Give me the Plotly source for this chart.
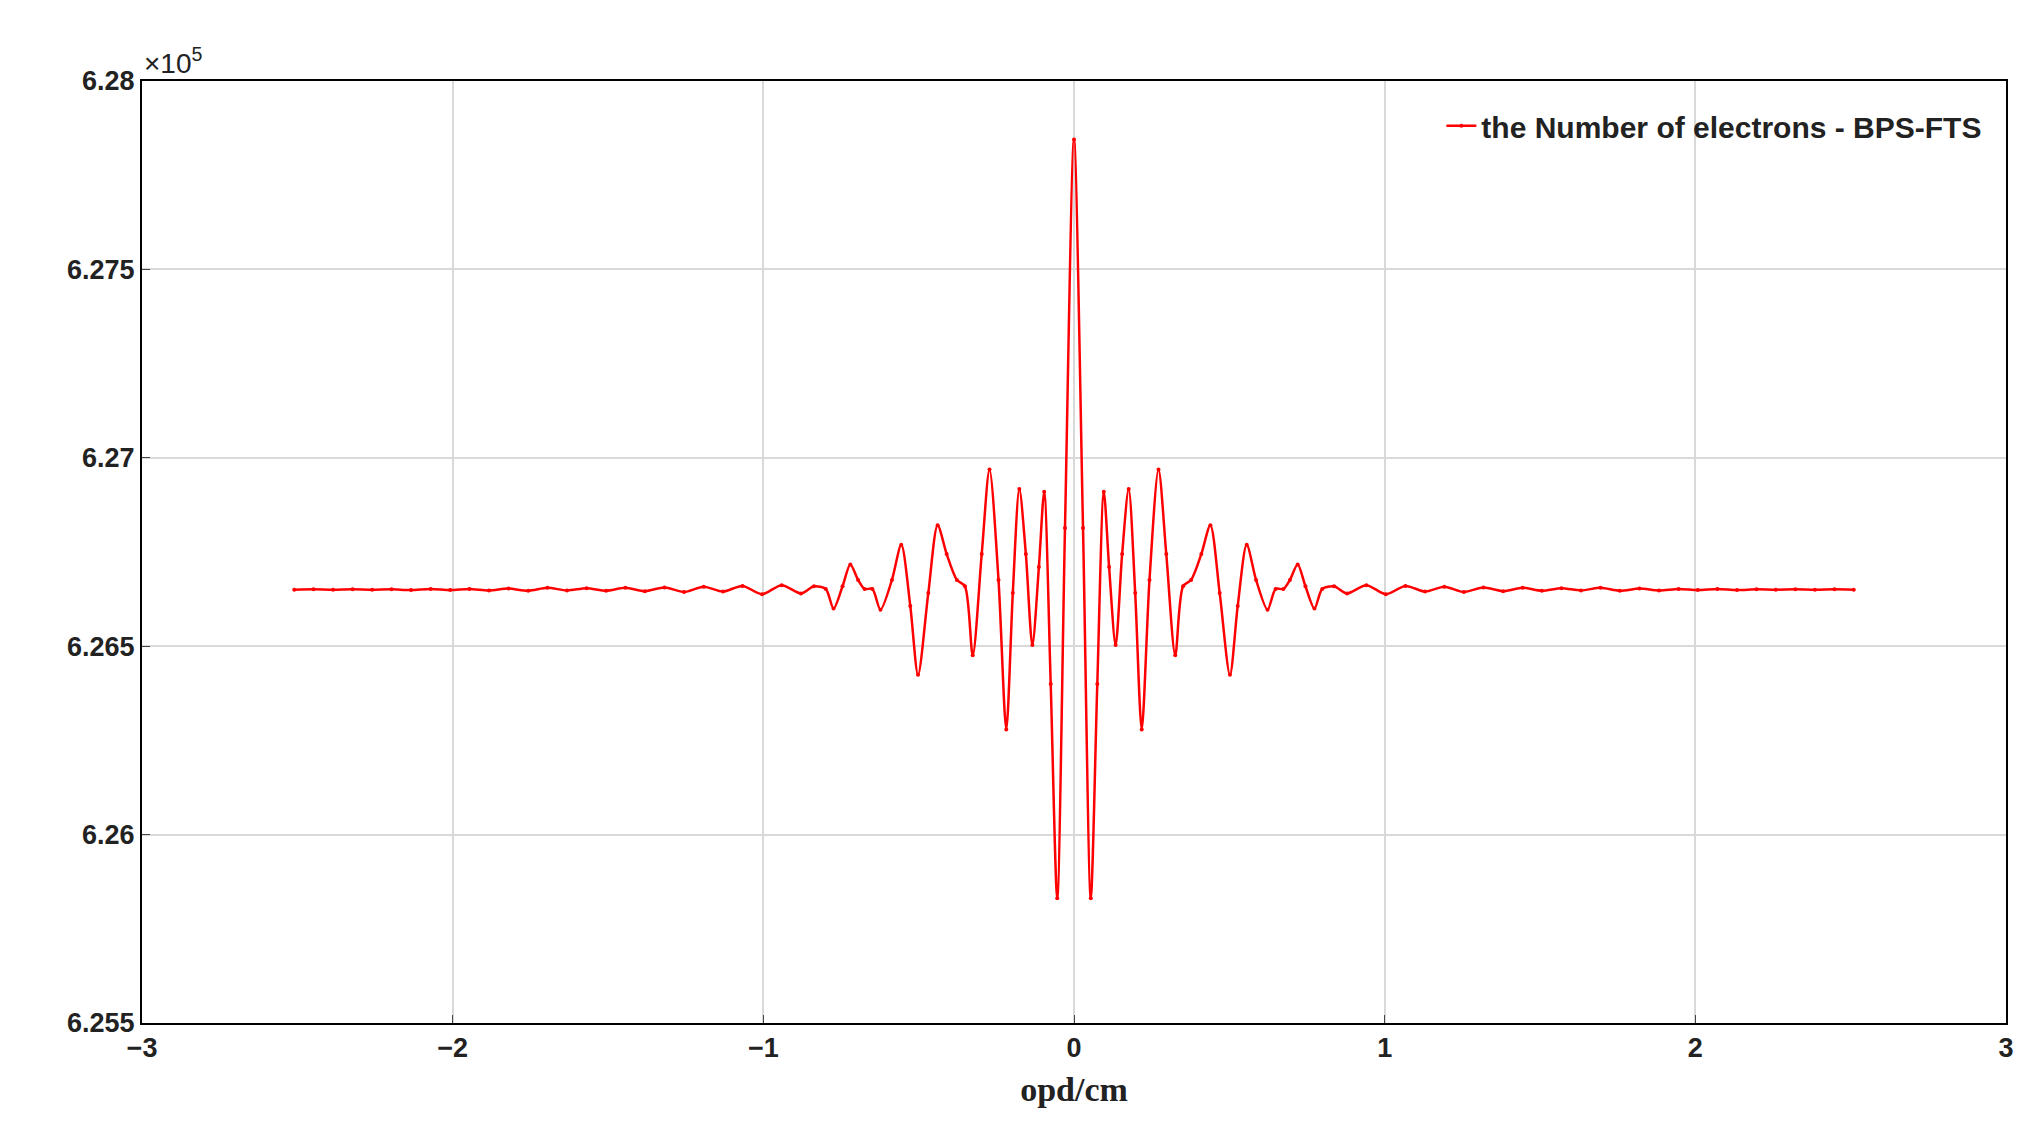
import plotly.graph_objects as go

# right half of the interferogram (opd >= 0); curve is symmetric
opd_half = [0, .029, .054, .075, .096, .113, .134, .155, .176, .197, .218, .243, .272, .297,
            .326, .351, .377, .410, .439, .469, .502, .527, .556, .586, .623, .649, .674, .695,
            .720, .745, .774, .799, .837, .879, .941, 1.004, 1.067, 1.130, 1.192, 1.255, 1.318,
            1.381, 1.444, 1.506, 1.569, 1.632, 1.695, 1.757, 1.820, 1.883, 1.946, 2.008, 2.071,
            2.134, 2.197, 2.259, 2.322, 2.385, 2.448, 2.51]
electrons_half = [6.27845, 6.26814, 6.25831, 6.26400, 6.26910, 6.26710, 6.26503, 6.26745,
                  6.26917, 6.26641, 6.26279, 6.26676, 6.26969, 6.26745, 6.26476, 6.26659,
                  6.26676, 6.26745, 6.26821, 6.26641, 6.26424, 6.26607, 6.26769, 6.26676,
                  6.26597, 6.26652, 6.26652, 6.26676, 6.26717, 6.26659, 6.26600, 6.26652,
                  6.26659, 6.26640, 6.26662, 6.26638, 6.26660, 6.26645, 6.26658, 6.26644,
                  6.26656, 6.26646, 6.26655, 6.26647, 6.26654, 6.26648, 6.26655, 6.26647,
                  6.26653, 6.26648, 6.26652, 6.26649, 6.26652, 6.26649, 6.26651, 6.26650,
                  6.26651, 6.26650, 6.26651, 6.26650]

opd = [-v for v in opd_half[:0:-1]] + opd_half
electrons = electrons_half[:0:-1] + electrons_half

y_ticks = [6.255, 6.26, 6.265, 6.27, 6.275, 6.28]
y_labels = ['6.255', '6.26', '6.265', '6.27', '6.275', '6.28']
x_ticks = [-3, -2, -1, 0, 1, 2, 3]
x_labels = ['\u22123', '\u22122', '\u22121', '0', '1', '2', '3']

fig = go.Figure(go.Scatter(
    x=opd, y=electrons, mode='lines+markers',
    line=dict(color='red', width=2.5, shape='spline', smoothing=0.8),
    marker=dict(color='red', size=4),
    name='<b>the Number of electrons - BPS-FTS</b>'
))

axis_font = dict(family='Liberation Sans', size=27, color='#222')
fig.update_layout(
    width=2022, height=1142,
    margin=dict(l=134, r=24, t=73, b=127),
    plot_bgcolor='white', paper_bgcolor='white',
    showlegend=True,
    legend=dict(x=0.99, y=0.98, xanchor='right', yanchor='top',
                font=dict(family='Liberation Sans', size=30, color='#222'),
                bgcolor='rgba(255,255,255,0)'),
    xaxis=dict(range=[-3, 3], tickvals=x_ticks, ticktext=['<b>' + t + '</b>' for t in x_labels],
               showgrid=True, gridcolor='#d9d9d9', gridwidth=2, zeroline=False,
               showline=True, linecolor='black', linewidth=2, mirror=True,
               ticks='inside', ticklen=8, tickfont=axis_font,
               title=dict(text='<b>opd/cm</b>', font=dict(family='Liberation Serif', size=34, color='#222'))),
    yaxis=dict(range=[6.255, 6.28], tickvals=y_ticks,
               ticktext=['<b>' + t + '</b>' for t in y_labels],
               showgrid=True, gridcolor='#d9d9d9', gridwidth=2, zeroline=False,
               showline=True, linecolor='black', linewidth=2, mirror=True,
               ticks='inside', ticklen=8, tickfont=axis_font),
    annotations=[dict(text='\u00d710<sup>5</sup>', xref='paper', yref='paper', x=0, y=1,
                      xanchor='left', yanchor='bottom', showarrow=False,
                      font=dict(family='Liberation Sans', size=28, color='#222'))]
)

fig.write_html("out.html")
